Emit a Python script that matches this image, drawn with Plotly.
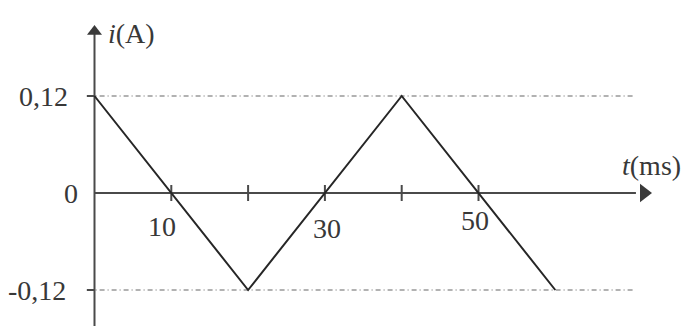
import plotly.graph_objects as go

# Triangular current waveform i(t)
t_ms = [0, 20, 40, 60]
i_amp = [0.12, -0.12, 0.12, -0.12]

# Axis graduations
t_ticks = [10, 20, 30, 40, 50]
t_tick_labels = ["10", "30", "50"]
t_label_pos = [10, 30, 50]
i_levels = [0.12, -0.12]
i_labels = ["0,12", "0", "-0,12"]
i_label_pos = [0.12, 0.0, -0.12]

# Plot frame (pixel scale of the figure)
W, H = 686, 326
X0_PX, PX_PER_MS = 94.5, 7.68
Y0_PX, PX_PER_A = 193.0, 97.0 / 0.12

x_range = [-X0_PX / PX_PER_MS, (W - X0_PX) / PX_PER_MS]
y_range = [-(H - Y0_PX) / PX_PER_A, Y0_PX / PX_PER_A]

AXIS_C = "#4a4a4a"
LINE_C = "#262626"
DASH_C = "#666666"
TXT_C = "#383838"
FONT = "Liberation Serif"
FS = 28

fig = go.Figure()

# Reference levels ±0.12 A (dash-dot)
for lv in i_levels:
    fig.add_trace(go.Scatter(
        x=[-0.9, 70.3], y=[lv, lv], mode="lines",
        line=dict(color=DASH_C, width=1.2, dash="5px,3px,1px,3px"),
        hoverinfo="skip", showlegend=False))

# Vertical axis with its small level ticks
fig.add_trace(go.Scatter(
    x=[0, 0], y=[y_range[0], (Y0_PX - 32) / PX_PER_A], mode="lines",
    line=dict(color=AXIS_C, width=2), hoverinfo="skip", showlegend=False))
for lv in i_levels:
    fig.add_trace(go.Scatter(
        x=[-1.0, 0], y=[lv, lv], mode="lines",
        line=dict(color=AXIS_C, width=2), hoverinfo="skip", showlegend=False))

# Horizontal axis with tick marks
fig.add_trace(go.Scatter(
    x=[0, 70.5], y=[0, 0], mode="lines",
    line=dict(color=AXIS_C, width=2), hoverinfo="skip", showlegend=False))
dy = 8.0 / PX_PER_A
for tk in t_ticks:
    fig.add_trace(go.Scatter(
        x=[tk, tk], y=[-dy, dy], mode="lines",
        line=dict(color=AXIS_C, width=2), hoverinfo="skip", showlegend=False))

# Arrow heads
fig.add_trace(go.Scatter(
    x=[0], y=[(Y0_PX - 31.5) / PX_PER_A], mode="markers",
    marker=dict(symbol="triangle-up", size=13, color="#3a3a3a"),
    hoverinfo="skip", showlegend=False))
fig.add_trace(go.Scatter(
    x=[(644 - X0_PX) / PX_PER_MS], y=[0], mode="markers",
    marker=dict(symbol="triangle-right", size=16, color="#3a3a3a"),
    hoverinfo="skip", showlegend=False))

# Current waveform
fig.add_trace(go.Scatter(
    x=t_ms, y=i_amp, mode="lines",
    line=dict(color=LINE_C, width=2), hoverinfo="skip", showlegend=False))

ann = []
# Level labels on the vertical axis (right edges in px)
i_label_right_px = [70, 80, 68]
for txt, v, rpx in zip(i_labels, i_label_pos, i_label_right_px):
    ann.append(dict(x=(rpx - X0_PX) / PX_PER_MS, y=v, text=txt,
                    xanchor="right", yanchor="middle", showarrow=False,
                    font=dict(family=FONT, size=FS, color=TXT_C)))
# Time labels (placed beside the waveform)
t_offsets = [-1.2, 0.3, -0.5]
t_yoff = [-33, -35, -27]
for txt, v, dx, oy in zip(t_tick_labels, t_label_pos, t_offsets, t_yoff):
    ann.append(dict(x=v + dx, y=oy / PX_PER_A, text=txt, xanchor="center",
                    yanchor="middle", showarrow=False,
                    font=dict(family=FONT, size=FS, color=TXT_C)))
# Axis titles
ann.append(dict(x=(106 - X0_PX) / PX_PER_MS, y=(Y0_PX - 33) / PX_PER_A,
                text="<i>i</i>(A)", xanchor="left", yanchor="middle",
                showarrow=False, font=dict(family=FONT, size=FS, color=TXT_C)))
ann.append(dict(x=(651 - X0_PX) / PX_PER_MS, y=(Y0_PX - 165) / PX_PER_A,
                text="<i>t</i>(ms)", xanchor="center", yanchor="middle",
                showarrow=False, font=dict(family=FONT, size=FS, color=TXT_C)))

fig.update_layout(
    width=W, height=H,
    margin=dict(l=0, r=0, t=0, b=0),
    paper_bgcolor="white", plot_bgcolor="white",
    xaxis=dict(range=x_range, visible=False, fixedrange=True),
    yaxis=dict(range=y_range, visible=False, fixedrange=True),
    annotations=ann,
    showlegend=False,
)

fig.write_html("out.html")
